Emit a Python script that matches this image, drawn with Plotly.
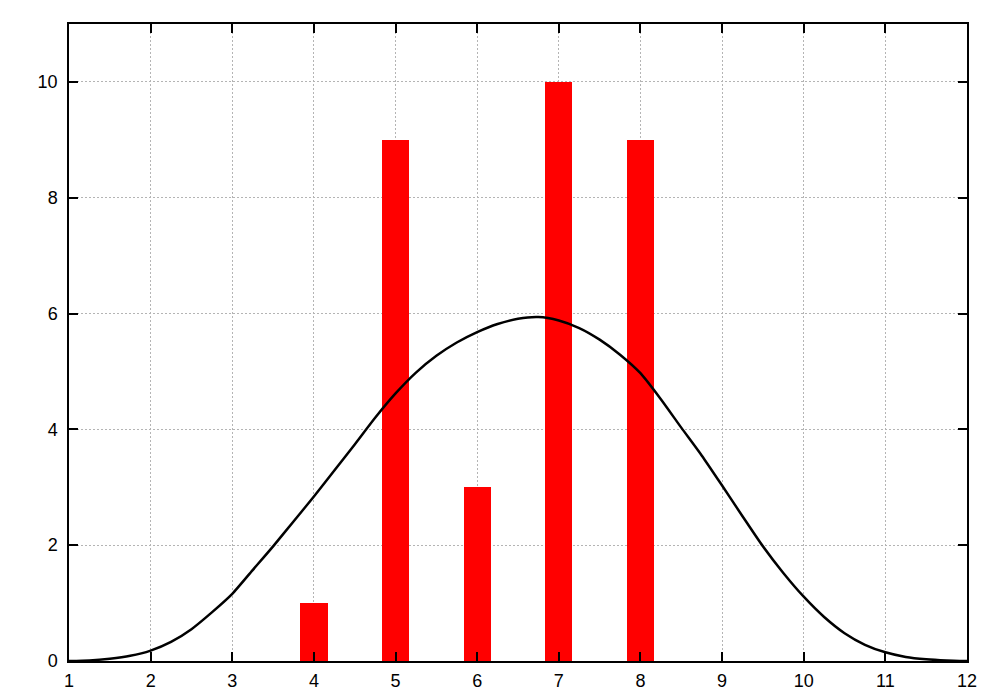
import plotly.graph_objects as go

# Bar data
bar_x = [4, 5, 6, 7, 8]
bar_y = [1, 9, 3, 10, 9]

# Curve (every 0.25)
curve_x = [1, 1.25, 1.5, 1.75, 2, 2.25, 2.5, 2.75, 3, 3.25, 3.5, 3.75, 4, 4.25, 4.5, 4.75,
           5, 5.25, 5.5, 5.75, 6, 6.25, 6.5, 6.75, 7, 7.25, 7.5, 7.75, 8, 8.25, 8.5, 8.75,
           9, 9.25, 9.5, 9.75, 10, 10.25, 10.5, 10.75, 11, 11.25, 11.5, 11.75, 12]
curve_y = [0.0, 0.01, 0.04, 0.09, 0.18, 0.33, 0.55, 0.84, 1.16, 1.57, 1.98, 2.41, 2.84, 3.29, 3.74, 4.20,
           4.62, 4.98, 5.27, 5.50, 5.68, 5.82, 5.91, 5.94, 5.88, 5.75, 5.55, 5.29, 4.97, 4.52, 4.03, 3.55,
           3.03, 2.50, 1.98, 1.52, 1.11, 0.76, 0.48, 0.28, 0.15, 0.07, 0.03, 0.01, 0.0]

x_ticks = list(range(1, 13))
y_ticks = [0, 2, 4, 6, 8, 10]

fig = go.Figure()
fig.add_trace(go.Bar(x=bar_x, y=bar_y, width=1/3, marker=dict(color="#ff0000", line=dict(width=0)),
                     showlegend=False))
fig.add_trace(go.Scatter(x=curve_x, y=curve_y, mode="lines",
                         line=dict(color="black", width=2.5, shape="spline", smoothing=0.6),
                         showlegend=False))

axis_common = dict(
    showline=True, linecolor="black", linewidth=1.5, mirror="ticks",
    ticks="inside", ticklen=9, tickcolor="black", tickwidth=1.5,
    showgrid=True, gridcolor="#b4b4b4", griddash="2px,2px", gridwidth=1,
    zeroline=False, tickfont=dict(family="Liberation Sans, Arial, sans-serif", size=18, color="black"),
)

fig.update_layout(
    width=1000, height=700,
    margin=dict(l=60.5, r=40.7, t=15.7, b=46.7),
    paper_bgcolor="white", plot_bgcolor="white",
    xaxis=dict(range=[1, 12], tickvals=x_ticks, ticktext=[str(v) for v in x_ticks],
               ticklabelstandoff=3, **axis_common),
    yaxis=dict(range=[0, 11], tickvals=y_ticks, ticktext=[str(v) for v in y_ticks],
               ticklabelstandoff=6, **axis_common),
    bargap=0,
)

fig.write_html("out.html")
